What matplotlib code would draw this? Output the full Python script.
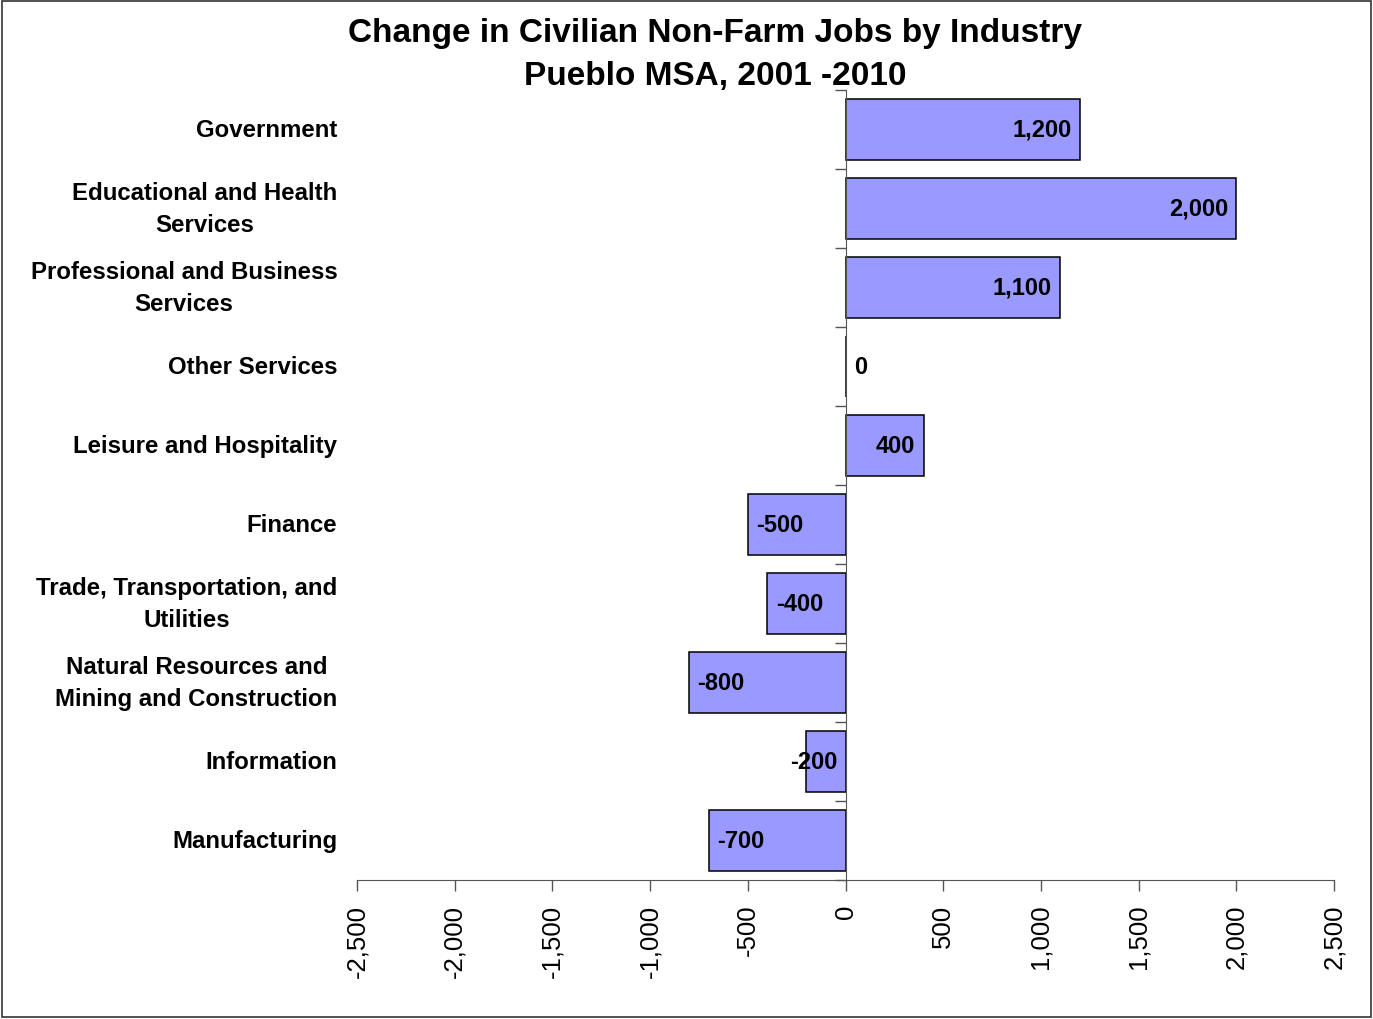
import matplotlib.pyplot as plt
from matplotlib.patches import Rectangle
from matplotlib.ticker import FuncFormatter, FixedLocator
import matplotlib.transforms as mtransforms

plt.rcParams['font.family'] = ['Liberation Sans', 'DejaVu Sans']

# data, top to bottom as in the chart
industries = [
    'Government',
    'Educational and Health\nServices',
    'Professional and Business\nServices',
    'Other Services',
    'Leisure and Hospitality',
    'Finance',
    'Trade, Transportation, and\nUtilities',
    'Natural Resources and\nMining and Construction',
    'Information',
    'Manufacturing',
]
job_change = [1200, 2000, 1100, 0, 400, -500, -400, -800, -200, -700]

title = 'Change in Civilian Non-Farm Jobs by Industry\nPueblo MSA, 2001 -2010'

### figure
fig = plt.figure(figsize=(13.73, 10.2), dpi=100)
ax = fig.add_axes([357 / 1373, 139 / 1020, 977 / 1373, 790 / 1020])

pos = list(range(len(industries)))
ax.barh(pos, job_change, height=0.77, color='#9999FF', edgecolor='black', linewidth=1.1)

ax.set_xlim(-2500, 2500)
ax.set_ylim(len(industries) - 0.5, -0.5)

# spines
for s in ['top', 'right']:
    ax.spines[s].set_visible(False)
ax.spines['left'].set_position(('data', 0))
ax.spines['left'].set_color('#555555')
ax.spines['bottom'].set_color('#555555')

# x ticks
ax.set_xticks(range(-2500, 2501, 500))
ax.xaxis.set_major_formatter(FuncFormatter(lambda v, p: f'{int(v):,}'))
ax.tick_params(axis='x', direction='out', length=8, width=1, color='#555555',
               labelsize=18.5, labelrotation=90, pad=9)

# y ticks: marks between categories, labels drawn separately
ax.set_yticks([])
ax.yaxis.set_minor_locator(FixedLocator([p - 0.5 for p in pos] + [pos[-1] + 0.5]))
ax.tick_params(axis='y', which='minor', direction='out', length=8, width=1, color='#555555')

trans = mtransforms.blended_transform_factory(ax.transAxes, ax.transData)
for p, name in zip(pos, industries):
    ax.text(-0.02, p, name, transform=trans, ha='right', va='center',
            fontsize=17.3, fontweight='bold', multialignment='center', linespacing=1.5)

# value labels
for p, v in zip(pos, job_change):
    txt = f'{v:,}'
    if v > 0:
        ax.annotate(txt, (v, p), xytext=(-6, 0), textcoords='offset points',
                    ha='right', va='center', fontsize=17, fontweight='bold')
    elif v == 0:
        ax.annotate(txt, (0, p), xytext=(6, 0), textcoords='offset points',
                    ha='left', va='center', fontsize=17, fontweight='bold')
    elif v > -300:
        # too short to fit inside end, align to the axis instead
        ax.annotate(txt, (0, p), xytext=(-6, 0), textcoords='offset points',
                    ha='right', va='center', fontsize=17, fontweight='bold')
    else:
        ax.annotate(txt, (v, p), xytext=(6, 0), textcoords='offset points',
                    ha='left', va='center', fontsize=17, fontweight='bold')

fig.text(715 / 1373, 1 - 55 / 1020, title, ha='center', va='center',
         fontsize=24, fontweight='bold', linespacing=1.5)

# chart border
fig.patches.append(Rectangle((0.0015, 0.002), 0.997, 0.996, transform=fig.transFigure,
                             fill=False, edgecolor='#333333', linewidth=1.2))

fig.savefig('out.png', dpi=100)
